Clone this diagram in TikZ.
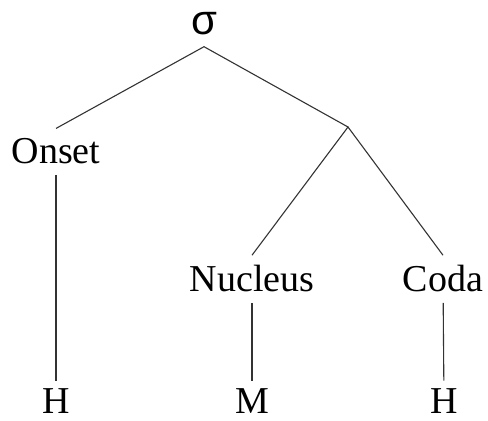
\documentclass[tikz,border=0pt]{standalone}
\usepackage{fontspec}
\setmainfont{Liberation Serif}
\newfontfamily\greekfont{Liberation Sans}
\usepackage{tikz}

\begin{document}
\begin{tikzpicture}[x=0.5pt, y=-0.5pt,
  seg/.style={anchor=base, inner sep=5pt, font=\fontsize{19}{21}\selectfont},
  link/.style={line width=0.55pt, black!80}]
  \useasboundingbox (0,0) rectangle (488,421);
  % Define nodes
  \node[inner sep=5.5pt, font=\greekfont\fontsize{21}{22}\selectfont] (sigma) at (204,24) {σ};
  \coordinate (rime) at (348,127);
  \node[seg] (onset)   at (56,164)  {Onset};
  \node[seg] (nucleus) at (252,292) {Nucleus};
  \node[seg] (coda)    at (443,292) {Coda};
  \node[seg, inner ysep=4pt] (h1) at (56,414)  {H};
  \node[seg, inner ysep=4pt] (m)  at (252,414) {M};
  \node[seg, inner ysep=4pt] (h2) at (444,414) {H};
  % Draw edges
  \draw[link] (onset.north) -- (sigma.south) -- (rime);
  \draw[link] (nucleus.north) -- (rime) -- (coda.north);
  \draw[link] (onset) -- (h1);
  \draw[link] (nucleus) -- (m);
  \draw[link] (coda) -- (h2);
\end{tikzpicture}
\end{document}
